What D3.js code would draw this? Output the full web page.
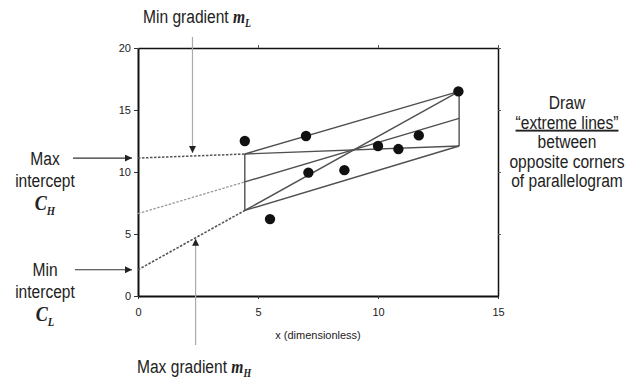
<!DOCTYPE html>
<html>
<head>
<meta charset="utf-8">
<script src="https://cdn.jsdelivr.net/npm/d3@7"></script>
<style>
  body { margin: 0; background: #fff; }
  svg { display: block; }
  .lbl { font-family: "Liberation Sans", Arial, sans-serif; font-size: 19px; fill: #222; }
  .sym { font-family: "Liberation Serif", "Times New Roman", serif; font-style: italic; font-weight: bold; }
</style>
</head>
<body>
<svg id="chart" width="628" height="384"></svg>
<script>
// measured points (x dimensionless)
const pointX = [4.45, 5.5, 7.0, 7.1, 8.6, 10.0, 10.85, 11.7, 13.35];
const pointY = [12.5, 6.2, 12.9, 9.95, 10.15, 12.1, 11.85, 12.95, 16.5];

// parallelogram: x of the two vertical sides, y of top / bottom corners
const boxX = [4.45, 13.38];
const boxTop = [11.45, 16.5];
const boxBottom = [6.9, 12.1];
const bestFit = [9.2, 14.33];

const xTicks = [0, 5, 10, 15];
const yTicks = [0, 5, 10, 15, 20];

// where the vertical arrows sit
const minGradArrowX = 2.27;
const maxGradArrowX = 2.4;

const margin = { top: 48, left: 138, right: 130, bottom: 88 };
const width = 628, height = 384;
const squeeze = 0.82; // the labels use a narrow face

const x = d3.scaleLinear().domain([0, 15]).range([margin.left, width - margin.right]);
const y = d3.scaleLinear().domain([0, 20]).range([height - margin.bottom, margin.top]);

const svg = d3.select("#chart");

const defs = svg.append("defs");
defs.append("marker")
    .attr("id", "head")
    .attr("viewBox", "0 0 10 10")
    .attr("refX", 10).attr("refY", 5)
    .attr("markerWidth", 7).attr("markerHeight", 7)
    .attr("markerUnits", "userSpaceOnUse")
    .attr("orient", "auto")
  .append("path")
    .attr("d", "M0,0L10,5L0,10z")
    .attr("fill", "#222");

// line through two points, evaluated at x = 0
const interceptOf = (x1, y1, x2, y2) => y1 - (y2 - y1) / (x2 - x1) * x1;
const cMin = interceptOf(boxX[0], boxTop[0], boxX[1], boxBottom[1]);   // min gradient -> max intercept
const cMax = interceptOf(boxX[0], boxBottom[0], boxX[1], boxTop[1]);   // max gradient -> min intercept
const cBest = interceptOf(boxX[0], bestFit[0], boxX[1], bestFit[1]);
const mMin = (boxBottom[1] - boxTop[0]) / (boxX[1] - boxX[0]);
const mMax = (boxTop[1] - boxBottom[0]) / (boxX[1] - boxX[0]);

// axes
const gl = svg.append("g").attr("transform", `translate(${margin.left},0)`)
    .call(d3.axisLeft(y).tickValues(yTicks).tickSize(4).tickSizeOuter(0).tickPadding(3));
const gb = svg.append("g").attr("transform", `translate(0,${y(0)})`)
    .call(d3.axisBottom(x).tickValues(xTicks).tickSize(3).tickSizeOuter(0).tickPadding(9));
const gt = svg.append("g").attr("transform", `translate(0,${y(20)})`)
    .call(d3.axisTop(x).tickValues(xTicks.slice(1)).tickSize(3).tickSizeOuter(0).tickFormat(""));
const gr = svg.append("g").attr("transform", `translate(${x(15)},0)`)
    .call(d3.axisRight(y).tickValues(yTicks.slice(1)).tickSize(3).tickSizeOuter(0).tickFormat(""));

[gl, gb].forEach(g => {
  g.select(".domain").attr("stroke", "#111").attr("stroke-width", 2);
  g.selectAll(".tick line").attr("stroke", "#333");
  g.selectAll("text").attr("font-family", "'Liberation Sans', sans-serif")
    .attr("font-size", 11).attr("fill", "#222");
});
[gt, gr].forEach(g => {
  g.select(".domain").attr("stroke", "#111").attr("stroke-width", 1.5);
  g.selectAll(".tick line").attr("stroke", "#555");
});

svg.append("text")
    .attr("x", 318).attr("y", 339)
    .attr("text-anchor", "middle")
    .attr("font-family", "'Liberation Sans', sans-serif")
    .attr("font-size", 11)
    .attr("fill", "#222")
    .text("x (dimensionless)");

// dashed extensions back to x = 0
const ext = [
  { c: cMin, y0: boxTop[0], color: "#555", w: 1.5 },
  { c: cBest, y0: bestFit[0], color: "#999", w: 1.3 },
  { c: cMax, y0: boxBottom[0], color: "#555", w: 1.6 }
];
svg.append("g").selectAll("line").data(ext).join("line")
    .attr("x1", x(0)).attr("y1", d => y(d.c))
    .attr("x2", x(boxX[0])).attr("y2", d => y(d.y0))
    .attr("stroke", d => d.color)
    .attr("stroke-width", d => d.w)
    .attr("stroke-dasharray", "2.5,1.5");

// parallelogram and lines inside it
const segs = [
  [boxX[0], boxBottom[0], boxX[0], boxTop[0]],
  [boxX[1], boxBottom[1], boxX[1], boxTop[1]],
  [boxX[0], boxTop[0], boxX[1], boxTop[1]],
  [boxX[0], boxBottom[0], boxX[1], boxBottom[1]],
  [boxX[0], bestFit[0], boxX[1], bestFit[1]],
  [boxX[0], boxTop[0], boxX[1], boxBottom[1]],
  [boxX[0], boxBottom[0], boxX[1], boxTop[1]]
];
svg.append("g").selectAll("line").data(segs).join("line")
    .attr("x1", d => x(d[0])).attr("y1", d => y(d[1]))
    .attr("x2", d => x(d[2])).attr("y2", d => y(d[3]))
    .attr("stroke", "#505050")
    .attr("stroke-width", 1.4);

// data points
svg.append("g").selectAll("circle").data(pointX).join("circle")
    .attr("cx", d => x(d))
    .attr("cy", (d, i) => y(pointY[i]))
    .attr("r", 5.2)
    .attr("fill", "#111");

// arrows
const arrows = [
  { x1: 73, y1: y(cMin), x2: x(0) - 6, y2: y(cMin), color: "#333" },
  { x1: 75, y1: y(cMax), x2: x(0) - 6, y2: y(cMax), color: "#333" },
  { x1: x(minGradArrowX), y1: 37, x2: x(minGradArrowX), y2: y(cMin + mMin * minGradArrowX) - 3, color: "#aaa" },
  { x1: x(maxGradArrowX), y1: 345, x2: x(maxGradArrowX), y2: y(cMax + mMax * maxGradArrowX) + 1, color: "#aaa" }
];
svg.append("g").selectAll("line").data(arrows).join("line")
    .attr("x1", d => d.x1).attr("y1", d => d.y1)
    .attr("x2", d => d.x2).attr("y2", d => d.y2)
    .attr("stroke", d => d.color)
    .attr("stroke-width", 1.2)
    .attr("marker-end", "url(#head)");

// narrow label: a text placed at (px, py) squeezed horizontally
function label(px, py, anchor) {
  return svg.append("g")
      .attr("transform", `translate(${px},${py}) scale(${squeeze},1)`)
    .append("text")
      .attr("class", "lbl")
      .attr("text-anchor", anchor || "start");
}

const t1 = label(143, 23);
t1.append("tspan").text("Min gradient ");
t1.append("tspan").attr("class", "sym").attr("font-size", 19).text("m");
t1.append("tspan").attr("class", "sym").attr("font-size", 12).attr("dy", 4).text("L");

const t2 = label(137, 373);
t2.append("tspan").text("Max gradient ");
t2.append("tspan").attr("class", "sym").attr("font-size", 19).text("m");
t2.append("tspan").attr("class", "sym").attr("font-size", 12).attr("dy", 4).text("H");

function leftBlock(top, first, sub) {
  label(45, top, "middle").text(first);
  label(45, top + 22, "middle").text("intercept");
  const c = label(45, top + 45, "middle");
  c.append("tspan").attr("class", "sym").attr("font-size", 22).text("C");
  c.append("tspan").attr("class", "sym").attr("font-size", 13).attr("dy", 5).text(sub);
}
leftBlock(165, "Max", "H");
leftBlock(276, "Min", "L");

const rightLines = ["Draw", "\u201Cextreme lines\u201D", "between", "opposite corners", "of parallelogram"];
rightLines.forEach((s, i) => {
  label(567, 109 + i * 19.6, "middle")
    .attr("text-decoration", i === 1 ? "underline" : null)
    .text(s);
});
</script>
</body>
</html>
